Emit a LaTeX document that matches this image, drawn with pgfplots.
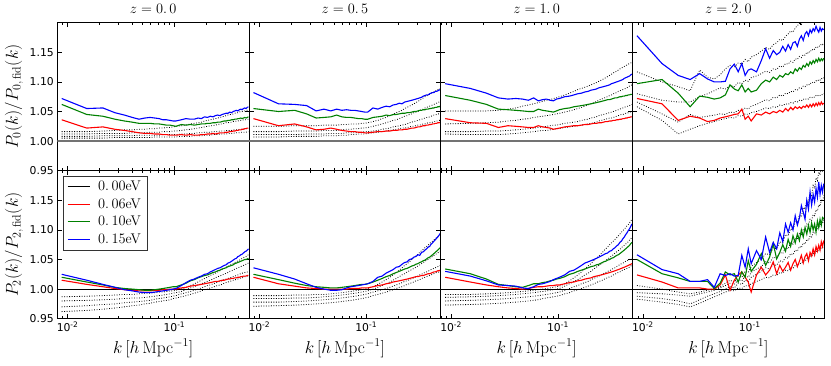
\documentclass[border=0pt]{standalone}
\usepackage[no-math]{fontspec}
\usepackage{pgfplots}
\usepackage{pgfplotstable}
\pgfplotsset{compat=1.18}
\newfontfamily\dejavu{DejaVu Sans}

% one table per panel, one row per series, transposed below
\pgfplotstableread[header=false]{
k 0.0088 0.0151 0.0214 0.0277 0.0340 0.0403 0.0466 0.0529 0.0592 0.0655 0.0718 0.0781 0.0844 0.0907 0.0970 0.1033 0.1159 0.1285 0.1411 0.1537 0.1663 0.1789 0.1915 0.2041 0.2167 0.2293 0.2419 0.2545 0.2671 0.2797 0.2923 0.3049 0.3175 0.3301 0.3427 0.3553 0.3679 0.3805 0.3931 0.4057 0.4183 0.4309 0.4435 0.4561 0.4687 0.4813 0.4939
b 1.072 1.055 1.056 1.048 1.044 1.040 1.037 1.039 1.040 1.039 1.038 1.036 1.036 1.035 1.034 1.034 1.036 1.038 1.037 1.037 1.039 1.038 1.041 1.040 1.042 1.041 1.043 1.044 1.043 1.045 1.046 1.047 1.047 1.049 1.048 1.050 1.051 1.052 1.051 1.053 1.054 1.053 1.055 1.056 1.055 1.057 1.058
g 1.062 1.045 1.042 1.037 1.034 1.032 1.030 1.030 1.030 1.029 1.029 1.028 1.027 1.027 1.026 1.025 1.028 1.027 1.028 1.027 1.028 1.029 1.029 1.030 1.030 1.031 1.031 1.032 1.032 1.033 1.034 1.034 1.035 1.035 1.036 1.036 1.037 1.037 1.038 1.038 1.039 1.038 1.039 1.040 1.039 1.040 1.041
r 1.036 1.022 1.024 1.020 1.018 1.016 1.014 1.013 1.013 1.012 1.012 1.011 1.011 1.010 1.010 1.010 1.011 1.010 1.011 1.010 1.010 1.011 1.011 1.012 1.012 1.013 1.012 1.013 1.014 1.014 1.014 1.015 1.015 1.016 1.016 1.017 1.017 1.018 1.018 1.019 1.019 1.020 1.020 1.021 1.021 1.022 1.022
d1 1.016 1.016 1.017 1.018 1.019 1.019 1.020 1.020 1.021 1.021 1.022 1.022 1.023 1.023 1.024 1.025 1.026 1.027 1.029 1.030 1.031 1.032 1.034 1.035 1.036 1.037 1.038 1.039 1.040 1.041 1.042 1.043 1.044 1.045 1.045 1.046 1.047 1.048 1.048 1.049 1.050 1.050 1.051 1.051 1.052 1.052 1.053
d2 1.012 1.012 1.013 1.013 1.013 1.014 1.014 1.014 1.015 1.015 1.015 1.016 1.016 1.016 1.017 1.017 1.018 1.019 1.020 1.021 1.022 1.023 1.024 1.025 1.026 1.026 1.027 1.028 1.029 1.029 1.030 1.031 1.031 1.032 1.032 1.033 1.033 1.034 1.034 1.035 1.035 1.035 1.036 1.036 1.036 1.037 1.037
d3 1.008 1.008 1.009 1.009 1.009 1.009 1.010 1.010 1.010 1.010 1.010 1.011 1.011 1.011 1.011 1.011 1.012 1.012 1.013 1.013 1.014 1.014 1.015 1.015 1.015 1.016 1.016 1.016 1.017 1.017 1.017 1.018 1.018 1.018 1.018 1.019 1.019 1.019 1.019 1.020 1.020 1.020 1.020 1.021 1.021 1.021 1.021
d4 1.005 1.005 1.005 1.006 1.006 1.006 1.006 1.006 1.006 1.007 1.007 1.007 1.007 1.007 1.007 1.007 1.008 1.008 1.008 1.009 1.009 1.009 1.010 1.010 1.010 1.011 1.011 1.011 1.012 1.012 1.012 1.012 1.013 1.013 1.013 1.013 1.014 1.014 1.014 1.014 1.015 1.015 1.015 1.015 1.015 1.016 1.016
}\rawA
\pgfplotstableread[header=false]{
k 0.0088 0.0151 0.0214 0.0277 0.0340 0.0403 0.0466 0.0529 0.0592 0.0655 0.0718 0.0781 0.0844 0.0907 0.0970 0.1033 0.1159 0.1285 0.1411 0.1537 0.1663 0.1789 0.1915 0.2041 0.2167 0.2293 0.2419 0.2545 0.2671 0.2797 0.2923 0.3049 0.3175 0.3301 0.3427 0.3553 0.3679 0.3805 0.3931 0.4057 0.4183 0.4309 0.4435 0.4561 0.4687 0.4813 0.4939
b 1.082 1.063 1.062 1.060 1.051 1.054 1.051 1.054 1.052 1.053 1.052 1.052 1.051 1.050 1.049 1.049 1.056 1.054 1.057 1.059 1.058 1.061 1.062 1.064 1.063 1.066 1.067 1.068 1.069 1.070 1.071 1.072 1.073 1.074 1.076 1.077 1.078 1.078 1.080 1.081 1.082 1.082 1.084 1.084 1.085 1.086 1.087
g 1.055 1.050 1.052 1.046 1.039 1.040 1.041 1.044 1.041 1.040 1.040 1.039 1.038 1.038 1.037 1.037 1.040 1.041 1.042 1.044 1.043 1.045 1.045 1.046 1.047 1.047 1.048 1.048 1.049 1.050 1.050 1.051 1.052 1.052 1.053 1.053 1.054 1.054 1.055 1.055 1.056 1.056 1.057 1.057 1.058 1.058 1.059
r 1.038 1.026 1.029 1.024 1.019 1.020 1.022 1.020 1.018 1.017 1.016 1.016 1.015 1.015 1.014 1.014 1.015 1.016 1.016 1.017 1.017 1.018 1.018 1.019 1.019 1.020 1.020 1.021 1.022 1.022 1.023 1.024 1.024 1.025 1.026 1.026 1.027 1.027 1.028 1.028 1.029 1.029 1.030 1.030 1.031 1.031 1.032
d1 1.025 1.025 1.026 1.026 1.026 1.027 1.027 1.027 1.028 1.028 1.029 1.029 1.029 1.030 1.030 1.031 1.033 1.035 1.038 1.040 1.043 1.045 1.048 1.050 1.052 1.055 1.057 1.059 1.061 1.063 1.065 1.067 1.069 1.071 1.073 1.075 1.076 1.078 1.079 1.081 1.082 1.083 1.084 1.086 1.087 1.088 1.089
d2 1.016 1.016 1.017 1.017 1.017 1.018 1.018 1.018 1.019 1.020 1.020 1.021 1.021 1.022 1.022 1.023 1.025 1.027 1.029 1.031 1.033 1.035 1.036 1.038 1.040 1.042 1.043 1.045 1.046 1.048 1.049 1.050 1.052 1.053 1.054 1.056 1.057 1.058 1.059 1.060 1.061 1.062 1.063 1.064 1.065 1.066 1.067
d3 1.011 1.011 1.011 1.012 1.012 1.012 1.013 1.013 1.013 1.014 1.014 1.014 1.015 1.015 1.016 1.016 1.017 1.018 1.020 1.021 1.022 1.024 1.025 1.026 1.027 1.028 1.029 1.031 1.032 1.033 1.034 1.035 1.036 1.037 1.038 1.039 1.040 1.040 1.041 1.042 1.043 1.044 1.044 1.045 1.046 1.046 1.047
d4 1.007 1.007 1.008 1.008 1.008 1.009 1.009 1.009 1.010 1.010 1.011 1.011 1.012 1.012 1.012 1.013 1.014 1.015 1.016 1.017 1.018 1.019 1.020 1.021 1.022 1.022 1.023 1.024 1.025 1.025 1.026 1.027 1.027 1.028 1.029 1.029 1.030 1.031 1.031 1.032 1.032 1.033 1.033 1.034 1.034 1.035 1.035
}\rawB
\pgfplotstableread[header=false]{
k 0.0088 0.0151 0.0214 0.0277 0.0340 0.0403 0.0466 0.0529 0.0592 0.0655 0.0718 0.0781 0.0844 0.0907 0.0970 0.1033 0.1159 0.1285 0.1411 0.1537 0.1663 0.1789 0.1915 0.2041 0.2167 0.2293 0.2419 0.2545 0.2671 0.2797 0.2923 0.3049 0.3175 0.3301 0.3427 0.3553 0.3679 0.3805 0.3931 0.4057 0.4183 0.4309 0.4435 0.4561 0.4687 0.4813 0.4939
b 1.097 1.089 1.081 1.073 1.071 1.072 1.071 1.069 1.073 1.068 1.070 1.071 1.069 1.068 1.071 1.072 1.075 1.076 1.078 1.080 1.081 1.083 1.084 1.086 1.087 1.088 1.090 1.091 1.092 1.093 1.094 1.095 1.097 1.098 1.099 1.100 1.101 1.102 1.103 1.104 1.106 1.107 1.108 1.109 1.110 1.112 1.113
g 1.077 1.069 1.062 1.054 1.053 1.052 1.051 1.050 1.050 1.054 1.052 1.051 1.050 1.049 1.051 1.053 1.055 1.056 1.058 1.059 1.060 1.061 1.062 1.063 1.064 1.065 1.066 1.067 1.068 1.069 1.070 1.070 1.071 1.072 1.073 1.073 1.074 1.075 1.075 1.076 1.076 1.077 1.077 1.078 1.078 1.079 1.079
r 1.038 1.031 1.030 1.023 1.026 1.025 1.024 1.023 1.023 1.026 1.024 1.023 1.022 1.020 1.021 1.022 1.024 1.025 1.026 1.026 1.027 1.028 1.028 1.029 1.030 1.030 1.031 1.031 1.032 1.033 1.033 1.034 1.034 1.035 1.035 1.036 1.036 1.037 1.037 1.038 1.038 1.039 1.039 1.040 1.040 1.041 1.041
d1 1.051 1.051 1.051 1.052 1.054 1.056 1.059 1.061 1.063 1.065 1.067 1.069 1.070 1.072 1.073 1.075 1.078 1.081 1.084 1.087 1.089 1.091 1.093 1.095 1.097 1.099 1.101 1.103 1.105 1.107 1.109 1.111 1.113 1.115 1.117 1.118 1.120 1.122 1.123 1.125 1.126 1.127 1.129 1.130 1.131 1.132 1.133
d2 1.029 1.030 1.031 1.032 1.034 1.035 1.037 1.038 1.040 1.041 1.042 1.043 1.044 1.045 1.046 1.047 1.049 1.051 1.053 1.055 1.057 1.059 1.061 1.063 1.065 1.067 1.069 1.071 1.072 1.074 1.075 1.077 1.078 1.080 1.081 1.082 1.084 1.085 1.086 1.087 1.088 1.089 1.090 1.092 1.093 1.094 1.095
d3 1.016 1.016 1.017 1.017 1.018 1.019 1.020 1.021 1.022 1.023 1.024 1.025 1.026 1.027 1.027 1.028 1.030 1.031 1.032 1.033 1.035 1.036 1.037 1.039 1.040 1.041 1.043 1.044 1.045 1.046 1.047 1.048 1.049 1.050 1.051 1.052 1.053 1.054 1.055 1.056 1.057 1.058 1.059 1.059 1.060 1.061 1.062
d4 1.012 1.011 1.011 1.011 1.012 1.013 1.014 1.015 1.016 1.017 1.018 1.018 1.019 1.020 1.021 1.021 1.023 1.024 1.025 1.026 1.027 1.028 1.029 1.030 1.031 1.032 1.034 1.035 1.036 1.037 1.038 1.039 1.039 1.040 1.041 1.042 1.043 1.044 1.045 1.045 1.046 1.047 1.047 1.048 1.049 1.049 1.050
}\rawC
\pgfplotstableread[header=false]{
k 0.0088 0.0151 0.0214 0.0277 0.0340 0.0403 0.0466 0.0529 0.0592 0.0655 0.0718 0.0781 0.0844 0.0907 0.0970 0.1033 0.1159 0.1285 0.1411 0.1537 0.1663 0.1789 0.1915 0.2041 0.2167 0.2293 0.2419 0.2545 0.2671 0.2797 0.2923 0.3049 0.3175 0.3301 0.3427 0.3553 0.3679 0.3805 0.3931 0.4057 0.4183 0.4309 0.4435 0.4561 0.4687 0.4813 0.4939
b 1.178 1.131 1.111 1.104 1.114 1.105 1.100 1.100 1.101 1.122 1.130 1.117 1.131 1.111 1.120 1.122 1.117 1.136 1.156 1.140 1.153 1.146 1.150 1.160 1.152 1.163 1.155 1.166 1.168 1.160 1.172 1.178 1.170 1.181 1.185 1.178 1.188 1.183 1.190 1.186 1.194 1.188 1.184 1.192 1.186 1.190 1.188
g 1.097 1.104 1.081 1.058 1.076 1.074 1.071 1.073 1.078 1.095 1.088 1.085 1.095 1.083 1.089 1.083 1.086 1.097 1.103 1.100 1.108 1.104 1.111 1.108 1.114 1.112 1.117 1.114 1.122 1.118 1.124 1.121 1.128 1.125 1.131 1.127 1.134 1.130 1.136 1.132 1.138 1.134 1.140 1.135 1.139 1.136 1.140
r 1.072 1.063 1.035 1.042 1.039 1.033 1.035 1.039 1.041 1.043 1.045 1.046 1.054 1.037 1.042 1.034 1.046 1.044 1.049 1.046 1.050 1.048 1.052 1.049 1.055 1.051 1.057 1.053 1.058 1.055 1.058 1.055 1.059 1.057 1.061 1.057 1.062 1.058 1.063 1.059 1.064 1.060 1.065 1.061 1.066 1.062 1.064
d1 1.117 1.100 1.092 1.085 1.120 1.108 1.105 1.112 1.122 1.128 1.125 1.132 1.130 1.138 1.134 1.142 1.146 1.152 1.158 1.155 1.163 1.166 1.172 1.170 1.177 1.181 1.186 1.184 1.191 1.195 1.199 1.197 1.204 1.207 1.211 1.209 1.215 1.218 1.221 1.219 1.224 1.226 1.229 1.227 1.231 1.233 1.235
d2 1.080 1.069 1.066 1.066 1.075 1.080 1.085 1.090 1.088 1.094 1.092 1.099 1.097 1.103 1.101 1.107 1.110 1.114 1.118 1.116 1.122 1.121 1.127 1.125 1.131 1.130 1.135 1.133 1.139 1.138 1.143 1.141 1.146 1.145 1.150 1.148 1.153 1.152 1.156 1.155 1.159 1.158 1.161 1.160 1.164 1.163 1.166
d3 1.066 1.046 1.032 1.045 1.040 1.042 1.044 1.046 1.045 1.049 1.048 1.052 1.051 1.056 1.054 1.059 1.062 1.066 1.070 1.068 1.074 1.073 1.078 1.076 1.081 1.080 1.084 1.083 1.087 1.086 1.090 1.089 1.093 1.092 1.095 1.094 1.098 1.097 1.100 1.099 1.102 1.101 1.104 1.103 1.106 1.105 1.107
d4 1.058 1.035 1.012 1.020 1.026 1.030 1.033 1.036 1.038 1.040 1.039 1.043 1.042 1.046 1.045 1.048 1.050 1.053 1.056 1.055 1.058 1.057 1.061 1.060 1.063 1.062 1.065 1.064 1.067 1.066 1.069 1.068 1.071 1.070 1.072 1.071 1.074 1.073 1.075 1.074 1.077 1.076 1.078 1.077 1.079 1.078 1.080
}\rawD
\pgfplotstableread[header=false]{
k 0.0088 0.0151 0.0214 0.0277 0.0340 0.0403 0.0466 0.0529 0.0592 0.0655 0.0718 0.0781 0.0844 0.0907 0.0970 0.1033 0.1159 0.1285 0.1411 0.1537 0.1663 0.1789 0.1915 0.2041 0.2167 0.2293 0.2419 0.2545 0.2671 0.2797 0.2923 0.3049 0.3175 0.3301 0.3427 0.3553 0.3679 0.3805 0.3931 0.4057 0.4183 0.4309 0.4435 0.4561 0.4687 0.4813 0.4939
b 1.025 1.015 1.008 1.003 0.999 0.997 0.995 0.994 0.994 0.995 0.996 0.997 0.998 0.999 1.000 1.001 1.006 1.011 1.015 1.017 1.020 1.022 1.025 1.026 1.029 1.031 1.033 1.035 1.036 1.038 1.040 1.041 1.044 1.045 1.047 1.049 1.051 1.052 1.055 1.056 1.058 1.059 1.061 1.063 1.064 1.066 1.068
g 1.020 1.012 1.007 1.003 1.001 1.000 0.999 0.998 0.998 0.999 1.000 1.001 1.002 1.003 1.004 1.004 1.007 1.010 1.014 1.016 1.019 1.021 1.023 1.024 1.026 1.028 1.029 1.031 1.032 1.034 1.035 1.036 1.038 1.039 1.040 1.041 1.043 1.044 1.045 1.046 1.047 1.048 1.049 1.050 1.050 1.051 1.052
r 1.015 1.008 1.004 1.001 0.999 0.998 0.997 0.997 0.997 0.998 0.998 0.999 0.999 1.000 1.000 1.000 1.002 1.003 1.005 1.006 1.007 1.008 1.009 1.010 1.011 1.012 1.013 1.013 1.014 1.015 1.015 1.016 1.017 1.017 1.018 1.018 1.019 1.019 1.020 1.020 1.021 1.021 1.022 1.022 1.022 1.023 1.023
d1 0.987 0.988 0.989 0.990 0.991 0.991 0.992 0.993 0.993 0.994 0.995 0.995 0.996 0.997 0.997 0.998 1.000 1.003 1.006 1.009 1.012 1.015 1.018 1.020 1.023 1.025 1.027 1.029 1.031 1.033 1.035 1.037 1.038 1.040 1.042 1.043 1.045 1.046 1.048 1.049 1.050 1.052 1.053 1.054 1.055 1.057 1.058
d2 0.980 0.981 0.982 0.983 0.984 0.985 0.985 0.986 0.987 0.988 0.989 0.990 0.991 0.992 0.993 0.994 0.996 0.999 1.002 1.004 1.007 1.009 1.011 1.013 1.015 1.017 1.019 1.021 1.022 1.024 1.025 1.027 1.028 1.030 1.031 1.032 1.034 1.035 1.036 1.037 1.038 1.039 1.040 1.041 1.042 1.043 1.044
d3 0.970 0.972 0.974 0.975 0.977 0.978 0.979 0.980 0.981 0.983 0.984 0.985 0.986 0.987 0.988 0.989 0.992 0.994 0.996 0.998 1.000 1.002 1.004 1.006 1.007 1.009 1.010 1.012 1.013 1.014 1.016 1.017 1.018 1.019 1.020 1.021 1.022 1.023 1.024 1.025 1.026 1.027 1.027 1.028 1.029 1.029 1.030
d4 0.962 0.964 0.966 0.968 0.970 0.972 0.973 0.975 0.976 0.978 0.979 0.980 0.981 0.982 0.984 0.985 0.987 0.989 0.991 0.993 0.995 0.997 0.999 1.000 1.002 1.003 1.005 1.006 1.007 1.008 1.010 1.011 1.012 1.013 1.014 1.015 1.016 1.016 1.017 1.018 1.019 1.019 1.020 1.021 1.021 1.022 1.022
}\rawE
\pgfplotstableread[header=false]{
k 0.0088 0.0151 0.0214 0.0277 0.0340 0.0403 0.0466 0.0529 0.0592 0.0655 0.0718 0.0781 0.0844 0.0907 0.0970 0.1033 0.1159 0.1285 0.1411 0.1537 0.1663 0.1789 0.1915 0.2041 0.2167 0.2293 0.2419 0.2545 0.2671 0.2797 0.2923 0.3049 0.3175 0.3301 0.3427 0.3553 0.3679 0.3805 0.3931 0.4057 0.4183 0.4309 0.4435 0.4561 0.4687 0.4813 0.4939
b 1.036 1.025 1.017 1.009 1.003 1.000 0.998 0.998 0.999 1.002 1.004 1.005 1.006 1.007 1.008 1.009 1.013 1.020 1.022 1.027 1.030 1.033 1.037 1.038 1.042 1.045 1.046 1.050 1.051 1.054 1.055 1.058 1.057 1.062 1.063 1.066 1.068 1.071 1.072 1.076 1.078 1.081 1.083 1.086 1.088 1.091 1.094
g 1.025 1.016 1.010 1.006 1.004 1.003 1.002 1.002 1.003 1.004 1.005 1.006 1.007 1.008 1.008 1.009 1.012 1.015 1.018 1.021 1.023 1.026 1.028 1.030 1.032 1.034 1.035 1.037 1.039 1.040 1.042 1.043 1.045 1.046 1.048 1.049 1.051 1.053 1.054 1.056 1.058 1.060 1.062 1.064 1.066 1.068 1.070
r 1.020 1.009 1.005 1.002 1.001 1.000 1.000 1.000 1.000 1.000 1.001 1.001 1.001 1.002 1.002 1.002 1.004 1.006 1.007 1.009 1.010 1.012 1.013 1.014 1.015 1.016 1.017 1.018 1.019 1.020 1.021 1.021 1.022 1.023 1.023 1.024 1.025 1.026 1.026 1.027 1.028 1.029 1.029 1.030 1.031 1.031 1.032
d1 0.989 0.989 0.990 0.990 0.991 0.991 0.992 0.993 0.994 0.995 0.996 0.997 0.998 0.999 1.000 1.001 1.004 1.008 1.012 1.016 1.020 1.024 1.028 1.032 1.036 1.040 1.043 1.046 1.050 1.053 1.056 1.059 1.062 1.065 1.067 1.070 1.072 1.074 1.077 1.079 1.081 1.083 1.085 1.087 1.089 1.091 1.093
d2 0.984 0.984 0.985 0.985 0.986 0.987 0.988 0.989 0.990 0.991 0.992 0.993 0.994 0.995 0.996 0.997 1.000 1.003 1.006 1.009 1.012 1.015 1.018 1.021 1.024 1.026 1.029 1.031 1.033 1.035 1.037 1.039 1.041 1.043 1.045 1.047 1.049 1.050 1.052 1.054 1.055 1.057 1.058 1.060 1.061 1.063 1.064
d3 0.978 0.978 0.979 0.980 0.981 0.982 0.983 0.984 0.985 0.986 0.987 0.988 0.989 0.990 0.991 0.992 0.995 0.997 0.999 1.001 1.003 1.005 1.007 1.009 1.011 1.013 1.014 1.016 1.018 1.019 1.021 1.022 1.024 1.025 1.027 1.028 1.029 1.030 1.032 1.033 1.034 1.035 1.036 1.037 1.038 1.039 1.040
d4 0.971 0.972 0.973 0.974 0.975 0.976 0.977 0.978 0.979 0.980 0.981 0.982 0.983 0.984 0.985 0.986 0.989 0.991 0.993 0.995 0.997 0.999 1.001 1.003 1.004 1.006 1.008 1.009 1.011 1.012 1.014 1.015 1.016 1.018 1.019 1.020 1.021 1.022 1.023 1.024 1.025 1.026 1.027 1.028 1.028 1.029 1.030
}\rawF
\pgfplotstableread[header=false]{
k 0.0088 0.0151 0.0214 0.0277 0.0340 0.0403 0.0466 0.0529 0.0592 0.0655 0.0718 0.0781 0.0844 0.0907 0.0970 0.1033 0.1159 0.1285 0.1411 0.1537 0.1663 0.1789 0.1915 0.2041 0.2167 0.2293 0.2419 0.2545 0.2671 0.2797 0.2923 0.3049 0.3175 0.3301 0.3427 0.3553 0.3679 0.3805 0.3931 0.4057 0.4183 0.4309 0.4435 0.4561 0.4687 0.4813 0.4939
b 1.030 1.022 1.014 1.007 1.006 1.005 1.002 1.001 1.004 1.008 1.009 1.011 1.013 1.016 1.018 1.020 1.024 1.030 1.032 1.036 1.040 1.044 1.046 1.048 1.050 1.052 1.054 1.056 1.058 1.060 1.061 1.064 1.065 1.068 1.070 1.073 1.075 1.079 1.081 1.085 1.088 1.092 1.095 1.099 1.102 1.106 1.110
g 1.034 1.026 1.017 1.008 1.006 1.004 1.003 1.006 1.009 1.009 1.011 1.012 1.014 1.015 1.017 1.018 1.021 1.025 1.027 1.030 1.032 1.034 1.036 1.038 1.039 1.041 1.042 1.044 1.046 1.047 1.049 1.050 1.052 1.053 1.055 1.057 1.058 1.060 1.062 1.064 1.066 1.068 1.070 1.072 1.074 1.077 1.079
r 1.020 1.012 1.007 1.004 1.002 1.001 1.000 1.001 1.003 1.004 1.004 1.005 1.006 1.006 1.007 1.007 1.009 1.011 1.012 1.014 1.015 1.017 1.018 1.019 1.021 1.022 1.023 1.024 1.025 1.026 1.027 1.028 1.029 1.030 1.031 1.032 1.033 1.034 1.035 1.036 1.037 1.038 1.039 1.040 1.041 1.042 1.043
d1 0.991 0.991 0.992 0.993 0.994 0.995 0.996 0.997 0.998 0.999 1.000 1.001 1.002 1.003 1.004 1.005 1.009 1.014 1.019 1.024 1.029 1.034 1.039 1.043 1.048 1.052 1.056 1.060 1.064 1.068 1.071 1.075 1.078 1.081 1.084 1.087 1.090 1.093 1.096 1.099 1.101 1.104 1.107 1.109 1.112 1.115 1.118
d2 0.986 0.987 0.988 0.989 0.990 0.991 0.992 0.993 0.994 0.995 0.996 0.997 0.998 0.999 1.000 1.001 1.005 1.009 1.013 1.016 1.020 1.024 1.027 1.030 1.034 1.037 1.040 1.043 1.045 1.048 1.051 1.053 1.056 1.058 1.061 1.063 1.065 1.067 1.070 1.072 1.074 1.076 1.078 1.080 1.083 1.085 1.088
d3 0.980 0.981 0.982 0.983 0.984 0.985 0.986 0.987 0.988 0.989 0.990 0.991 0.992 0.993 0.994 0.995 0.998 1.001 1.004 1.006 1.009 1.011 1.013 1.016 1.018 1.020 1.022 1.024 1.026 1.028 1.030 1.031 1.033 1.035 1.036 1.038 1.040 1.041 1.043 1.044 1.045 1.047 1.048 1.049 1.050 1.051 1.052
d4 0.973 0.974 0.975 0.976 0.977 0.978 0.979 0.980 0.981 0.982 0.984 0.985 0.986 0.987 0.988 0.989 0.992 0.994 0.997 0.999 1.001 1.003 1.005 1.007 1.009 1.011 1.013 1.014 1.016 1.018 1.019 1.021 1.022 1.024 1.025 1.027 1.028 1.029 1.031 1.032 1.033 1.034 1.035 1.036 1.037 1.039 1.040
}\rawG
\pgfplotstableread[header=false]{
k 0.0088 0.0151 0.0214 0.0277 0.0340 0.0403 0.0466 0.0529 0.0592 0.0655 0.0718 0.0781 0.0844 0.0907 0.0970 0.1033 0.1159 0.1285 0.1411 0.1537 0.1663 0.1789 0.1915 0.2041 0.2167 0.2293 0.2419 0.2545 0.2671 0.2797 0.2923 0.3049 0.3175 0.3301 0.3427 0.3553 0.3679 0.3805 0.3931 0.4057 0.4183 0.4309 0.4435 0.4561 0.4687 0.4813 0.4939
b 1.058 1.033 1.026 1.013 1.013 1.016 1.003 1.026 1.023 1.026 1.022 1.023 1.057 1.037 1.068 1.043 1.065 1.050 1.088 1.062 1.079 1.068 1.095 1.080 1.110 1.096 1.112 1.100 1.124 1.108 1.120 1.141 1.130 1.118 1.150 1.135 1.164 1.142 1.160 1.147 1.170 1.155 1.181 1.160 1.175 1.164 1.178
g 1.050 1.026 1.019 1.013 1.013 1.013 1.001 1.010 1.029 1.024 1.026 1.012 1.029 1.020 1.048 1.030 1.042 1.060 1.040 1.054 1.077 1.051 1.062 1.075 1.064 1.084 1.072 1.090 1.078 1.093 1.082 1.100 1.088 1.104 1.093 1.108 1.096 1.112 1.100 1.110 1.096 1.115 1.104 1.118 1.108 1.121 1.119
r 1.024 1.012 1.002 1.002 1.002 1.000 1.000 1.007 1.024 0.998 1.015 1.024 1.029 1.020 1.012 0.995 1.024 1.037 1.024 1.032 1.046 1.026 1.040 1.030 1.037 1.045 1.032 1.043 1.050 1.038 1.047 1.057 1.044 1.055 1.060 1.048 1.062 1.056 1.068 1.058 1.072 1.064 1.074 1.066 1.080 1.072 1.082
d1 1.006 1.000 0.995 0.992 0.995 0.998 1.001 1.004 1.010 1.015 1.012 1.022 1.020 1.030 1.028 1.038 1.045 1.050 1.060 1.058 1.070 1.068 1.080 1.078 1.092 1.090 1.102 1.100 1.115 1.112 1.125 1.122 1.138 1.135 1.150 1.147 1.162 1.158 1.175 1.170 1.188 1.183 1.198 1.193 1.205 1.200 1.210
d2 0.994 0.992 0.990 0.988 0.992 0.995 0.998 1.002 1.006 1.010 1.008 1.016 1.014 1.022 1.020 1.028 1.034 1.038 1.046 1.044 1.054 1.052 1.062 1.060 1.070 1.068 1.078 1.076 1.086 1.084 1.094 1.092 1.102 1.100 1.110 1.108 1.118 1.116 1.126 1.124 1.134 1.132 1.142 1.140 1.150 1.148 1.158
d3 0.988 0.984 0.980 0.975 0.982 0.988 0.992 0.996 1.000 1.004 1.002 1.010 1.008 1.015 1.013 1.020 1.025 1.030 1.036 1.034 1.042 1.040 1.048 1.046 1.054 1.052 1.060 1.058 1.066 1.064 1.072 1.070 1.078 1.076 1.084 1.082 1.090 1.088 1.096 1.094 1.102 1.100 1.108 1.106 1.113 1.111 1.118
d4 0.983 0.978 0.974 0.970 0.976 0.982 0.987 0.991 0.995 0.998 0.997 1.002 1.001 1.006 1.005 1.009 1.013 1.016 1.020 1.019 1.024 1.023 1.028 1.027 1.032 1.031 1.036 1.035 1.040 1.039 1.044 1.043 1.048 1.047 1.052 1.051 1.056 1.055 1.060 1.059 1.064 1.063 1.067 1.066 1.070 1.069 1.073
}\rawH
\pgfplotstabletranspose[colnames from=0]{\tabA}{\rawA}
\pgfplotstabletranspose[colnames from=0]{\tabB}{\rawB}
\pgfplotstabletranspose[colnames from=0]{\tabC}{\rawC}
\pgfplotstabletranspose[colnames from=0]{\tabD}{\rawD}
\pgfplotstabletranspose[colnames from=0]{\tabE}{\rawE}
\pgfplotstabletranspose[colnames from=0]{\tabF}{\rawF}
\pgfplotstabletranspose[colnames from=0]{\tabG}{\rawG}
\pgfplotstabletranspose[colnames from=0]{\tabH}{\rawH}

\definecolor{mplgreen}{rgb}{0,0.5,0}
\tikzset{
  dotline/.style={black, line width=0.8pt, dash pattern=on 0.8pt off 1.7pt},
  cline/.style={line width=1.1pt},
}
\newcommand\dotcurves[1]{%
  \addplot[dotline, forget plot] table[x=k,y=d1]{#1};
  \addplot[dotline, forget plot] table[x=k,y=d2]{#1};
  \addplot[dotline, forget plot] table[x=k,y=d3]{#1};
  \addplot[dotline, forget plot] table[x=k,y=d4]{#1};
}
\newcommand\curves[1]{%
  \dotcurves{#1}
  \addplot[cline, red, forget plot] table[x=k,y=r]{#1};
  \addplot[cline, mplgreen, forget plot] table[x=k,y=g]{#1};
  \addplot[cline, blue, forget plot] table[x=k,y=b]{#1};
}
\newcommand\topline{\addplot[black!55, line width=1.4pt, forget plot] coordinates {(0.008,1) (0.5,1)};}
\newcommand\botline{\addplot[black, line width=0.9pt, forget plot] coordinates {(0.008,1) (0.5,1)};}

\begin{document}
\begin{tikzpicture}
% top row: monopole
\begin{axis}[at={(57.3pt,-22.7pt)}, anchor=north west,
  xmode=log, xmin=0.008, xmax=0.5, ymin=0.95, ymax=1.2,
  scale only axis, width=191.75pt, height=148pt,
  xtick={0.01,0.1}, minor xtick={0.008,0.009,0.02,0.03,0.04,0.05,0.06,0.07,0.08,0.09,0.2,0.3,0.4,0.5},
  ytick={0.95,1.0,1.05,1.1,1.15}, tick align=inside, tick pos=both,
  major tick length=4.5pt, minor tick length=2.5pt,
  tick style={black, line width=0.6pt}, axis line style={line width=0.9pt},
  tick label style={font=\dejavu\fontsize{10.8}{12}\selectfont},
  label style={font=\fontsize{16.5}{19}\selectfont},
  title style={font=\fontsize{13.6}{16}\selectfont},
  xticklabels={}, yticklabels={0.95,1.00,1.05,1.10,1.15},
  title={$z=0.\,0$}, ylabel={$P_0(k)/P_{0,\,\mathrm{fid}}(k)$}]
  \topline \curves{\tabA}
\end{axis}
\begin{axis}[at={(249.05pt,-22.7pt)}, anchor=north west,
  xmode=log, xmin=0.008, xmax=0.5, ymin=0.95, ymax=1.2,
  scale only axis, width=191.75pt, height=148pt,
  xtick={0.01,0.1}, minor xtick={0.008,0.009,0.02,0.03,0.04,0.05,0.06,0.07,0.08,0.09,0.2,0.3,0.4,0.5},
  ytick={0.95,1.0,1.05,1.1,1.15}, tick align=inside, tick pos=both,
  major tick length=4.5pt, minor tick length=2.5pt,
  tick style={black, line width=0.6pt}, axis line style={line width=0.9pt},
  title style={font=\fontsize{13.6}{16}\selectfont},
  xticklabels={}, yticklabels={},
  title={$z=0.\,5$}]
  \topline \curves{\tabB}
\end{axis}
\begin{axis}[at={(440.8pt,-22.7pt)}, anchor=north west,
  xmode=log, xmin=0.008, xmax=0.5, ymin=0.95, ymax=1.2,
  scale only axis, width=191.75pt, height=148pt,
  xtick={0.01,0.1}, minor xtick={0.008,0.009,0.02,0.03,0.04,0.05,0.06,0.07,0.08,0.09,0.2,0.3,0.4,0.5},
  ytick={0.95,1.0,1.05,1.1,1.15}, tick align=inside, tick pos=both,
  major tick length=4.5pt, minor tick length=2.5pt,
  tick style={black, line width=0.6pt}, axis line style={line width=0.9pt},
  title style={font=\fontsize{13.6}{16}\selectfont},
  xticklabels={}, yticklabels={},
  title={$z=1.\,0$}]
  \topline \curves{\tabC}
\end{axis}
\begin{axis}[at={(632.55pt,-22.7pt)}, anchor=north west,
  xmode=log, xmin=0.008, xmax=0.5, ymin=0.95, ymax=1.2,
  scale only axis, width=191.75pt, height=148pt,
  xtick={0.01,0.1}, minor xtick={0.008,0.009,0.02,0.03,0.04,0.05,0.06,0.07,0.08,0.09,0.2,0.3,0.4,0.5},
  ytick={0.95,1.0,1.05,1.1,1.15}, tick align=inside, tick pos=both,
  major tick length=4.5pt, minor tick length=2.5pt,
  tick style={black, line width=0.6pt}, axis line style={line width=0.9pt},
  title style={font=\fontsize{13.6}{16}\selectfont},
  xticklabels={}, yticklabels={},
  title={$z=2.\,0$}]
  \topline \curves{\tabD}
\end{axis}
% bottom row: quadrupole
\begin{axis}[at={(57.3pt,-170.7pt)}, anchor=north west,
  xmode=log, xmin=0.008, xmax=0.5, ymin=0.95, ymax=1.2,
  scale only axis, width=191.75pt, height=148pt,
  xtick={0.01,0.1}, minor xtick={0.008,0.009,0.02,0.03,0.04,0.05,0.06,0.07,0.08,0.09,0.2,0.3,0.4,0.5},
  ytick={0.95,1.0,1.05,1.1,1.15}, tick align=inside, tick pos=both,
  major tick length=4.5pt, minor tick length=2.5pt,
  tick style={black, line width=0.6pt}, axis line style={line width=0.9pt},
  tick label style={font=\dejavu\fontsize{10.8}{12}\selectfont},
  label style={font=\fontsize{16.5}{19}\selectfont},
  xticklabels={10\textsuperscript{-2},10\textsuperscript{-1}}, yticklabels={0.95,1.00,1.05,1.10,1.15},
  xlabel={$k\,[h\,\mathrm{Mpc}^{-1}]$}, ylabel={$P_2(k)/P_{2,\,\mathrm{fid}}(k)$},
  legend style={at={(0.029,0.964)}, anchor=north west, draw=black!80,
    font=\fontsize{14}{16}\selectfont, inner xsep=4pt, inner ysep=3pt, row sep=2.5pt},
  legend cell align=left,
  legend image code/.code={\draw[#1] (0pt,0pt) -- (22pt,0pt); \path (28pt,0pt);}]
  \addplot[black, line width=1pt] coordinates {(0.008,1) (0.5,1)};
  \addlegendentry{$0.\,00$eV}
  \dotcurves{\tabE}
  \addplot[cline, red] table[x=k,y=r]{\tabE};
  \addlegendentry{$0.\,06$eV}
  \addplot[cline, mplgreen] table[x=k,y=g]{\tabE};
  \addlegendentry{$0.\,10$eV}
  \addplot[cline, blue] table[x=k,y=b]{\tabE};
  \addlegendentry{$0.\,15$eV}
\end{axis}
\begin{axis}[at={(249.05pt,-170.7pt)}, anchor=north west,
  xmode=log, xmin=0.008, xmax=0.5, ymin=0.95, ymax=1.2,
  scale only axis, width=191.75pt, height=148pt,
  xtick={0.01,0.1}, minor xtick={0.008,0.009,0.02,0.03,0.04,0.05,0.06,0.07,0.08,0.09,0.2,0.3,0.4,0.5},
  ytick={0.95,1.0,1.05,1.1,1.15}, tick align=inside, tick pos=both,
  major tick length=4.5pt, minor tick length=2.5pt,
  tick style={black, line width=0.6pt}, axis line style={line width=0.9pt},
  tick label style={font=\dejavu\fontsize{10.8}{12}\selectfont},
  label style={font=\fontsize{16.5}{19}\selectfont},
  xticklabels={10\textsuperscript{-2},10\textsuperscript{-1}}, yticklabels={},
  xlabel={$k\,[h\,\mathrm{Mpc}^{-1}]$}]
  \botline \curves{\tabF}
\end{axis}
\begin{axis}[at={(440.8pt,-170.7pt)}, anchor=north west,
  xmode=log, xmin=0.008, xmax=0.5, ymin=0.95, ymax=1.2,
  scale only axis, width=191.75pt, height=148pt,
  xtick={0.01,0.1}, minor xtick={0.008,0.009,0.02,0.03,0.04,0.05,0.06,0.07,0.08,0.09,0.2,0.3,0.4,0.5},
  ytick={0.95,1.0,1.05,1.1,1.15}, tick align=inside, tick pos=both,
  major tick length=4.5pt, minor tick length=2.5pt,
  tick style={black, line width=0.6pt}, axis line style={line width=0.9pt},
  tick label style={font=\dejavu\fontsize{10.8}{12}\selectfont},
  label style={font=\fontsize{16.5}{19}\selectfont},
  xticklabels={10\textsuperscript{-2},10\textsuperscript{-1}}, yticklabels={},
  xlabel={$k\,[h\,\mathrm{Mpc}^{-1}]$}]
  \botline \curves{\tabG}
\end{axis}
\begin{axis}[at={(632.55pt,-170.7pt)}, anchor=north west,
  xmode=log, xmin=0.008, xmax=0.5, ymin=0.95, ymax=1.2,
  scale only axis, width=191.75pt, height=148pt,
  xtick={0.01,0.1}, minor xtick={0.008,0.009,0.02,0.03,0.04,0.05,0.06,0.07,0.08,0.09,0.2,0.3,0.4,0.5},
  ytick={0.95,1.0,1.05,1.1,1.15}, tick align=inside, tick pos=both,
  major tick length=4.5pt, minor tick length=2.5pt,
  tick style={black, line width=0.6pt}, axis line style={line width=0.9pt},
  tick label style={font=\dejavu\fontsize{10.8}{12}\selectfont},
  label style={font=\fontsize{16.5}{19}\selectfont},
  xticklabels={10\textsuperscript{-2},10\textsuperscript{-1}}, yticklabels={},
  xlabel={$k\,[h\,\mathrm{Mpc}^{-1}]$}]
  \botline \curves{\tabH}
\end{axis}
\pgfresetboundingbox
\useasboundingbox (0pt,0pt) rectangle (831pt,-365pt);
\end{tikzpicture}
\end{document}
